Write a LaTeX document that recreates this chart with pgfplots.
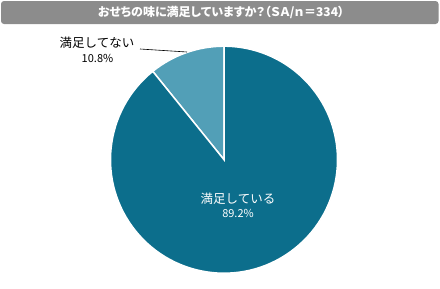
\documentclass[border=0pt]{standalone}
\usepackage{pgfplots}
\pgfplotsset{compat=1.18}
\usepackage{pgfplotstable}
\usepackage{fontspec}
\setmainfont{Noto Sans CJK JP}
\newfontfamily\titlefont[RawFeature=+palt]{Noto Sans CJK JP}
\definecolor{darkteal}{HTML}{0C6E8C}
\definecolor{lightteal}{HTML}{529FB7}
\definecolor{titlebar}{HTML}{8C8C8C}
\pgfplotstableread{
idx value
0 89.2
1 10.8
}\piedata
\begin{document}
\begin{tikzpicture}
\pgfplotstablegetelem{0}{value}\of\piedata \let\vA\pgfplotsretval
\pgfplotstablegetelem{1}{value}\of\piedata \let\vB\pgfplotsretval
\pgfmathsetmacro{\angB}{90+3.6*\vB}
\pgfmathsetmacro{\angA}{\angB+3.6*\vA}
\begin{axis}[x=1bp,y=1bp,xmin=0,xmax=440,ymin=0,ymax=281,hide axis,clip=false]
\path (axis cs:0,0) rectangle (axis cs:440,281);
\fill[titlebar, rounded corners=3bp] (axis cs:1,257) rectangle (axis cs:438.5,280);
\node[text=white, font=\titlefont\fontsize{12bp}{13bp}\selectfont\bfseries] at (axis cs:221,268.5) {おせちの味に満足していますか？（ＳＡ/ｎ＝334）};
\fill[lightteal, draw=white, line width=1.5bp] (axis cs:224,121.3) -- ++(90:113.5bp) arc[start angle=90, end angle=\angB, radius=113.5bp] -- cycle;
\fill[darkteal, draw=white, line width=1.5bp] (axis cs:224,121.3) -- ++(\angB:113.5bp) arc[start angle=\angB, end angle=\angA, radius=113.5bp] -- cycle;
\draw[black, line width=0.6bp] (axis cs:140,232) -- (axis cs:187,229);
\node[font=\fontsize{12.5bp}{14bp}\selectfont] at (axis cs:97,238) {満足してない};
\node[font=\fontsize{11bp}{13bp}\selectfont] at (axis cs:97.5,223) {10.8\%};
\node[text=white, font=\fontsize{12.5bp}{14bp}\selectfont] at (axis cs:238,82) {満足している};
\node[text=white, font=\fontsize{11bp}{13bp}\selectfont] at (axis cs:238,67.5) {89.2\%};
\end{axis}
\end{tikzpicture}
\end{document}
